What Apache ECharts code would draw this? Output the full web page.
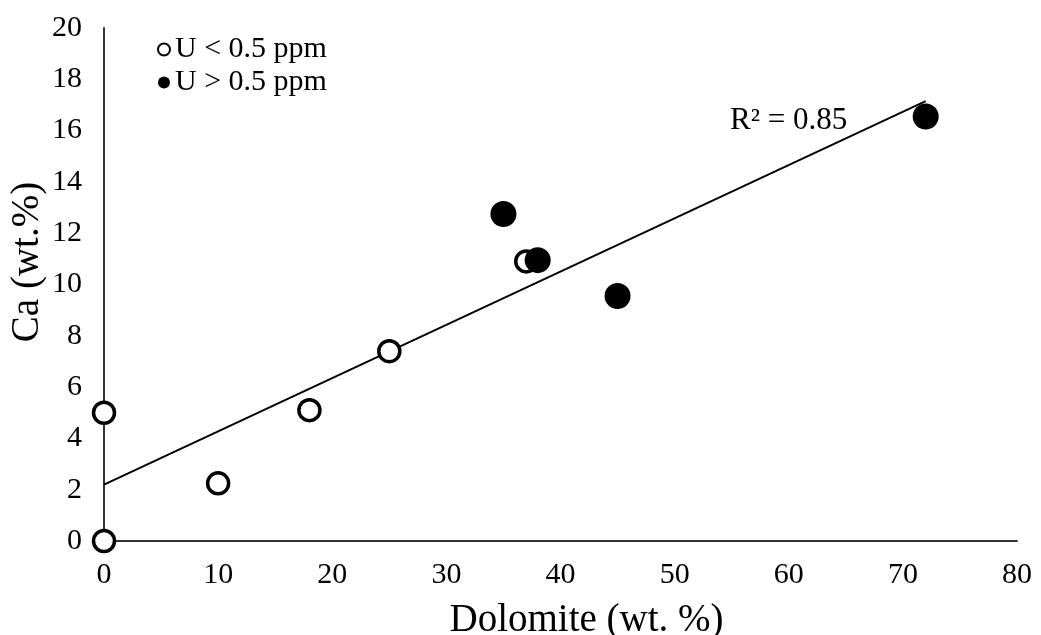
<!DOCTYPE html>
<html>
<head>
<meta charset="utf-8">
<script src="https://cdn.jsdelivr.net/npm/echarts@6/dist/echarts.min.js"></script>
<style>html,body{margin:0;padding:0;background:#fff;}#c{width:1041px;height:635px;}</style>
</head>
<body>
<div id="c"></div>
<script>
const lowUX = [0, 0, 10, 18, 25, 37];
const lowUY = [0, 5.0, 2.25, 5.1, 7.4, 10.9];
const highUX = [35, 38, 45, 72];
const highUY = [12.75, 10.95, 9.55, 16.55];
const trendX = [0, 72];
const trendY = [2.2, 17.15];
const xTicks = [0, 10, 20, 30, 40, 50, 60, 70, 80];
const yTicks = [0, 2, 4, 6, 8, 10, 12, 14, 16, 18, 20];
const seriesNames = ['U < 0.5 ppm', 'U > 0.5 ppm'];
const xTitle = 'Dolomite (wt. %)';
const yTitle = 'Ca (wt.%)';
const r2Text = 'R\u00B2 = 0.85';

const FONT = 'Liberation Serif';
const zip = (a, b) => a.map((v, i) => [v, b[i]]);

const chart = echarts.init(document.getElementById('c'), null, {renderer: 'canvas'});
chart.setOption({
  backgroundColor: '#fff',
  animation: false,
  grid: {left: 104, right: 24, top: 28, bottom: 94, containLabel: false, outerBoundsMode: 'none'},
  xAxis: {
    type: 'value', min: xTicks[0], max: xTicks[xTicks.length - 1], interval: 10,
    axisLine: {show: true, onZero: false, lineStyle: {color: '#333', width: 2}},
    axisTick: {show: false},
    splitLine: {show: false},
    axisLabel: {fontFamily: FONT, fontSize: 30, color: '#000', margin: 19},
    name: xTitle, nameLocation: 'middle', nameGap: 60,
    nameTextStyle: {fontFamily: FONT, fontSize: 39, color: '#000', padding: [0, 0, 0, 52]}
  },
  yAxis: {
    type: 'value', min: yTicks[0], max: yTicks[yTicks.length - 1], interval: 2,
    axisLine: {show: true, onZero: false, lineStyle: {color: '#333', width: 2}},
    axisTick: {show: false},
    splitLine: {show: false},
    axisLabel: {fontFamily: FONT, fontSize: 30, color: '#000', margin: 22}
  },
  legend: {
    orient: 'vertical', left: 152, top: 28, itemGap: 0,
    itemWidth: 12, itemHeight: 12,
    textStyle: {fontFamily: FONT, fontSize: 30, color: '#000', lineHeight: 33},
    data: [
      {name: seriesNames[0], icon: 'circle', itemStyle: {color: '#fff', borderColor: '#000', borderWidth: 2}},
      {name: seriesNames[1], icon: 'circle', itemStyle: {color: '#000', borderColor: '#000', borderWidth: 0}}
    ]
  },
  graphic: [
    {type: 'text', left: 730, top: 105, style: {text: r2Text, font: '31px "' + FONT + '"', fill: '#000'}},
    {type: 'text', x: 8, y: 262, rotation: Math.PI / 2,
     style: {text: yTitle, font: '39px "' + FONT + '"', fill: '#000', align: 'center', verticalAlign: 'top'}}
  ],
  series: [
    {
      type: 'line', name: 'trend', data: zip(trendX, trendY), showSymbol: false, symbol: 'none',
      lineStyle: {color: '#000', width: 2}, z: 1, silent: true
    },
    {
      type: 'scatter', name: seriesNames[0], data: zip(lowUX, lowUY), symbol: 'circle', symbolSize: 21,
      itemStyle: {color: '#fff', borderColor: '#000', borderWidth: 3.5, opacity: 1}, z: 2
    },
    {
      type: 'scatter', name: seriesNames[1], data: zip(highUX, highUY), symbol: 'circle', symbolSize: 26,
      itemStyle: {color: '#000', opacity: 1}, z: 3
    }
  ]
});
</script>
</body>
</html>
